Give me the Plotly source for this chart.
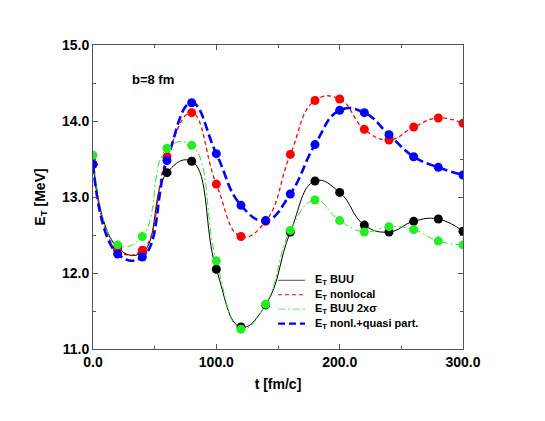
import plotly.graph_objects as go

t = [0, 20, 40, 60, 80, 100, 120, 140, 160, 180, 200, 220, 240, 260, 280, 300]
et_buu = [13.43, 12.33, 12.27, 13.32, 13.47, 12.05, 11.29, 11.58, 12.54, 13.21, 13.06, 12.63, 12.54, 12.68, 12.71, 12.55]
et_nonlocal = [13.43, 12.30, 12.30, 13.53, 14.11, 13.17, 12.48, 12.68, 13.56, 14.27, 14.29, 13.89, 13.75, 13.92, 14.04, 13.97]
et_buu2s = [13.55, 12.37, 12.48, 13.64, 13.68, 12.16, 11.26, 11.59, 12.56, 12.96, 12.69, 12.54, 12.61, 12.57, 12.42, 12.37]
et_quasi = [13.43, 12.25, 12.21, 13.48, 14.24, 13.57, 12.89, 12.69, 13.04, 13.69, 14.14, 14.11, 13.82, 13.53, 13.39, 13.29]

names = ["E<sub>T</sub> BUU", "E<sub>T</sub> nonlocal", "E<sub>T</sub> BUU 2x\u03c3", "E<sub>T</sub> nonl.+quasi part."]
series = [et_buu, et_nonlocal, et_buu2s, et_quasi]
colors = ["#000000", "#ff0000", "#22ee22", "#0000ff"]
dashes = ["solid", "4px,3px", "7px,3px,2px,3px", "9px,4px"]
widths = [1.0, 1.3, 1.0, 2.6]

fig = go.Figure()
for name, y, c, d, w in zip(names, series, colors, dashes, widths):
    fig.add_trace(go.Scatter(x=t, y=y, mode="lines", name=name,
                             line=dict(color=c, dash=d, width=w, shape="spline", smoothing=1.3),
                             showlegend=False))
for name, y, c in zip(names, series, colors):
    fig.add_trace(go.Scatter(x=t, y=y, mode="markers", name=name,
                             marker=dict(color=c, size=9), showlegend=False))

# manual legend (line samples + labels), positioned in paper coordinates
leg_x0, leg_x1, leg_tx = 0.50, 0.573, 0.594
leg_y0, leg_dy = 0.226, 0.0475
leg_colors = ["#555555", "#ff0000", "#66ee66", "#0000ff"]
leg_dashes = ["solid", "4px,3px", "7px,3px,2px,3px", "7px,4px"]
leg_widths = [1.0, 1.2, 1.0, 2.2]
for i, (name, c, d, w) in enumerate(zip(names, leg_colors, leg_dashes, leg_widths)):
    yy = leg_y0 - i * leg_dy
    fig.add_shape(type="line", xref="paper", yref="paper", x0=leg_x0, x1=leg_x1, y0=yy, y1=yy,
                  line=dict(color=c, dash=d, width=w))
    fig.add_annotation(x=leg_tx, y=yy, xref="paper", yref="paper", text=name, showarrow=False,
                       xanchor="left", yanchor="middle",
                       font=dict(family="Liberation Sans", size=11, color="black", weight="bold"))

fig.add_annotation(x=0.1, y=0.885, xref="paper", yref="paper", text="b=8 fm",
                   showarrow=False, xanchor="left", yanchor="middle",
                   font=dict(family="Liberation Sans", size=13, color="black", weight="bold"))

axis_common = dict(showline=True, linecolor="#555555", linewidth=1, mirror="ticks",
                   ticks="inside", ticklen=5, tickcolor="#555555", showgrid=False,
                   zeroline=False, automargin=False,
                   tickfont=dict(family="Liberation Sans", size=14, color="black", weight="bold"))

fig.update_xaxes(range=[0, 300], tickvals=[0, 100, 200, 300], ticktext=["0.0", "100.0", "200.0", "300.0"],
                 minor=dict(tickvals=[50, 150, 250], ticks="inside", ticklen=3, tickcolor="#555555"),
                 title=dict(text="t [fm/c]", standoff=10,
                            font=dict(family="Liberation Sans", size=14, color="black", weight="bold")),
                 **axis_common)
fig.update_yaxes(range=[11, 15], tickvals=[11, 12, 13, 14, 15], ticktext=["11.0", "12.0", "13.0", "14.0", "15.0"],
                 minor=dict(tickvals=[11.5, 12.5, 13.5, 14.5], ticks="inside", ticklen=3, tickcolor="#555555"),
                 title=dict(text="E<sub>T</sub> [MeV]", standoff=13,
                            font=dict(family="Liberation Sans", size=14, color="black", weight="bold")),
                 **axis_common)

fig.update_layout(width=545, height=421, margin=dict(l=93, r=82, t=45, b=72, autoexpand=False),
                  plot_bgcolor="white", paper_bgcolor="white", showlegend=False)

fig.write_html("out.html", config={"displayModeBar": False},
               post_script="document.body.style.margin='0';")
